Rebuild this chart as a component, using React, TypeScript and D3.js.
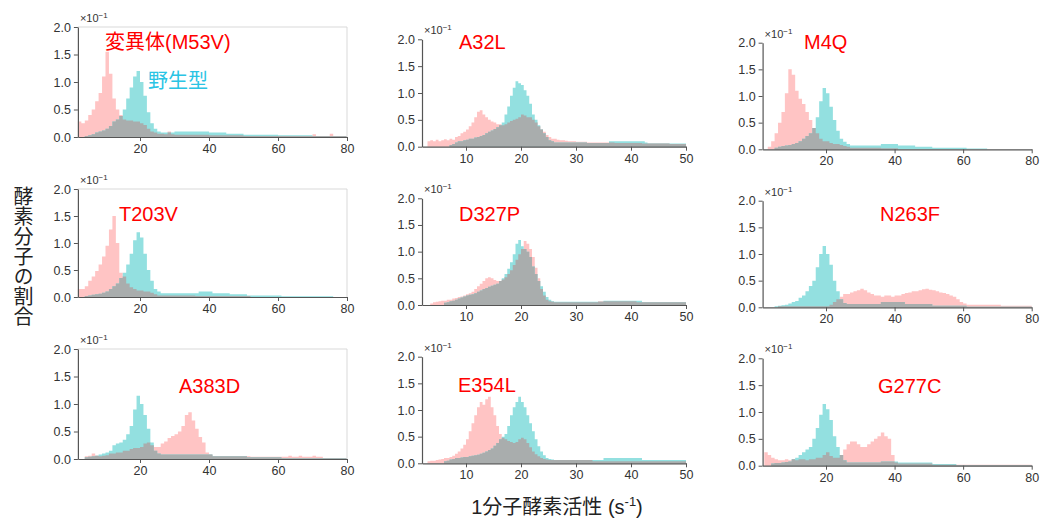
import React, { useEffect, useRef } from 'react';
import * as d3 from 'd3';

// histogram bins start at x = 2; left/right columns use 1-unit bins, middle column 0.5-unit bins
const BIN_START = 2;

const mutantNames = ['変異体(M53V)', 'A32L', 'M4Q', 'T203V', 'D327P', 'N263F', 'A383D', 'E354L', 'G277C'];
const wildName = '野生型';
const yTicks = [0, 0.5, 1, 1.5, 2];
const wideTicks = [20, 40, 60, 80];
const narrowTicks = [10, 20, 30, 40, 50];
const xTitle = '1分子酵素活性 (s';
const yTitle = '酵素分子の割合';

// values in units of 10^-1
const m53vMutant = [
  0.28, 0.25, 0.3, 0.4, 0.5, 0.65, 0.8, 1.1, 1.55, 1.15,
  0.7, 0.5, 0.4, 0.32, 0.3, 0.3, 0.28, 0.28, 0.25, 0.22,
  0.15, 0.1, 0.08, 0.06, 0.06, 0.05, 0.1, 0.05, 0.04, 0.04,
  0.04, 0.04, 0.04, 0.04, 0.04, 0.04, 0.04, 0.04, 0.03, 0.03,
  0.03, 0.03, 0.03, 0.03, 0.03, 0.03, 0.03, 0.03, 0.02, 0.02,
  0.02, 0.02, 0.02, 0.02, 0.02, 0.02, 0.02, 0.02, 0.02, 0.02,
  0.02, 0.02, 0.02, 0.02, 0.02, 0.02, 0.02, 0.02, 0.05, 0.02,
  0.02, 0.02, 0.02, 0.06, 0.02, 0.02, 0.02, 0.02,
];
const m53vWild = [
  0, 0, 0.02, 0.03, 0.05, 0.08, 0.1, 0.12, 0.15, 0.2,
  0.28, 0.32, 0.38, 0.5, 0.7, 0.9, 1.1, 1.2, 1.0, 0.75,
  0.45, 0.25, 0.15, 0.1, 0.08, 0.08, 0.08, 0.08, 0.1, 0.1,
  0.1, 0.1, 0.1, 0.1, 0.1, 0.1, 0.1, 0.1, 0.08, 0.08,
  0.08, 0.08, 0.08, 0.06, 0.06, 0.06, 0.06, 0.06, 0.04, 0.04,
  0.04, 0.04, 0.04, 0.04, 0.04, 0.04, 0.04, 0.04, 0.03, 0.03,
  0.03, 0.03, 0.03, 0.03, 0.03, 0.03, 0.03, 0.03, 0.02, 0.02,
  0.02, 0.02, 0.02, 0.02, 0.02, 0.02, 0.02, 0.02,
];
const a32lMutant = [
  0, 0, 0.1, 0.12, 0.1, 0.13, 0.1, 0.12, 0.14, 0.12,
  0.15, 0.13, 0.18, 0.2, 0.25, 0.28, 0.32, 0.38, 0.45, 0.55,
  0.65, 0.68, 0.6, 0.55, 0.5, 0.47, 0.45, 0.42, 0.42, 0.4,
  0.42, 0.45, 0.48, 0.5, 0.52, 0.55, 0.6, 0.58, 0.55, 0.55,
  0.5, 0.45, 0.38, 0.32, 0.28, 0.22, 0.18, 0.15, 0.15, 0.13,
  0.12, 0.12, 0.11, 0.1, 0.1, 0.1, 0.09, 0.09, 0.09, 0.09,
  0.08, 0.08, 0.08, 0.08, 0.08, 0.08, 0.08, 0.08, 0.08, 0.08,
  0.07, 0.07, 0.07, 0.07, 0.07, 0.07, 0.07, 0.07, 0.07, 0.07,
  0.06, 0.06, 0.06, 0.06, 0.06, 0.06, 0.06, 0.06, 0.06, 0.06,
  0.05, 0.05, 0.05, 0.05, 0.05, 0.05,
];
const a32lWild = [
  0, 0, 0, 0, 0, 0, 0, 0, 0, 0,
  0.03, 0.05, 0.08, 0.1, 0.1, 0.12, 0.13, 0.15, 0.15, 0.17,
  0.18, 0.2, 0.22, 0.25, 0.28, 0.3, 0.33, 0.36, 0.4, 0.45,
  0.6, 0.75, 0.95, 1.1, 1.22, 1.18, 1.15, 1.05, 0.95, 0.8,
  0.6, 0.5, 0.4, 0.32, 0.25, 0.18, 0.12, 0.1, 0.08, 0.08,
  0.08, 0.08, 0.08, 0.08, 0.08, 0.08, 0.08, 0.08, 0.08, 0.08,
  0.07, 0.07, 0.07, 0.07, 0.07, 0.07, 0.07, 0.07, 0.1, 0.1,
  0.1, 0.1, 0.1, 0.1, 0.1, 0.1, 0.1, 0.1, 0.1, 0.1,
  0.1, 0.08, 0.06, 0.06, 0.06, 0.06, 0.06, 0.06, 0.06, 0.06,
  0.06, 0.06, 0.06, 0.06, 0.06, 0.06,
];
const m4qMutant = [
  0, 0.05, 0.15, 0.3, 0.5, 0.7, 1.05, 1.5, 1.4, 1.1,
  0.95, 0.85, 0.7, 0.55, 0.4, 0.3, 0.2, 0.15, 0.15, 0.12,
  0.1, 0.1, 0.08, 0.06, 0.05, 0.03, 0.03, 0.03, 0.03, 0.03,
  0.03, 0.03, 0.03, 0.03, 0.02, 0.02, 0.02, 0.02, 0.02,
];
const m4qWild = [
  0, 0, 0, 0.03, 0.05, 0.06, 0.07, 0.08, 0.1, 0.12,
  0.15, 0.2, 0.25, 0.3, 0.4, 0.6, 0.9, 1.15, 1.05, 0.8,
  0.55, 0.35, 0.2, 0.14, 0.1, 0.07, 0.07, 0.07, 0.07, 0.07,
  0.07, 0.07, 0.07, 0.07, 0.1, 0.1, 0.1, 0.1, 0.1, 0.07,
  0.07, 0.07, 0.07, 0.07, 0.05, 0.05, 0.05, 0.05, 0.05, 0.03,
  0.03, 0.03, 0.03, 0.03, 0.03, 0.03, 0.03, 0.03, 0.03, 0.015,
  0.015, 0.015, 0.015, 0.015, 0.015,
];
const t203vMutant = [
  0.15, 0.15, 0.2, 0.3, 0.38, 0.48, 0.6, 0.75, 0.95, 1.25,
  1.5, 1.0, 0.45, 0.38, 0.25, 0.18, 0.15, 0.12, 0.12, 0.1,
  0.1, 0.08, 0.05, 0.03, 0.03, 0.03, 0.03, 0.03, 0.03, 0.03,
  0.03, 0.03, 0.03, 0.03, 0.02, 0.02, 0.02, 0.02, 0.02, 0.02,
  0.02, 0.02, 0.02, 0.02, 0.02, 0.02, 0.02, 0.02, 0.02, 0.02,
];
const t203vWild = [
  0, 0, 0.02, 0.03, 0.04, 0.05, 0.06, 0.08, 0.1, 0.15,
  0.2, 0.25, 0.35, 0.45, 0.6, 0.8, 1.05, 1.2, 1.1, 0.8,
  0.5, 0.3, 0.15, 0.1, 0.07, 0.07, 0.07, 0.07, 0.07, 0.07,
  0.07, 0.07, 0.07, 0.07, 0.07, 0.1, 0.1, 0.1, 0.1, 0.07,
  0.07, 0.07, 0.07, 0.07, 0.05, 0.05, 0.05, 0.05, 0.05, 0.03,
  0.03, 0.03, 0.03, 0.03, 0.03, 0.03, 0.03, 0.03, 0.03, 0.015,
  0.015, 0.015, 0.015, 0.015, 0.015, 0.015, 0.015, 0.015, 0.015, 0.015,
  0.015, 0.015, 0.015, 0.015,
];
const d327pMutant = [
  0, 0, 0, 0.03, 0.05, 0.06, 0.07, 0.08, 0.08, 0.1,
  0.1, 0.12, 0.13, 0.15, 0.16, 0.18, 0.2, 0.22, 0.25, 0.3,
  0.35, 0.4, 0.45, 0.5, 0.52, 0.5, 0.47, 0.45, 0.45, 0.48,
  0.52, 0.58, 0.65, 0.75, 0.85, 0.95, 1.05, 1.2, 1.15, 1.05,
  0.9, 0.7, 0.5, 0.3, 0.18, 0.1, 0.07, 0.06, 0.05, 0.05,
  0.05, 0.05, 0.05, 0.05, 0.05, 0.05, 0.05, 0.05, 0.05, 0.05,
  0.05, 0.05, 0.05, 0.05, 0.07, 0.07, 0.07, 0.07, 0.07, 0.07,
  0.07, 0.07, 0.07, 0.07, 0.07, 0.07, 0.07, 0.07, 0.05, 0.05,
  0.05, 0.05, 0.05, 0.05, 0.05, 0.05, 0.05, 0.05, 0.05, 0.05,
  0.05, 0.05, 0.05, 0.05, 0.05, 0.05,
];
const d327pWild = [
  0, 0, 0, 0, 0, 0, 0, 0, 0.04, 0.05,
  0.07, 0.08, 0.1, 0.12, 0.14, 0.16, 0.18, 0.19, 0.2, 0.22,
  0.25, 0.27, 0.3, 0.32, 0.34, 0.36, 0.38, 0.4, 0.45, 0.5,
  0.58, 0.68, 0.8, 0.95, 1.15, 1.22, 1.1, 1.05, 1.0, 0.9,
  0.72, 0.58, 0.45, 0.35, 0.25, 0.15, 0.1, 0.07, 0.06, 0.06,
  0.06, 0.06, 0.06, 0.06, 0.06, 0.06, 0.06, 0.06, 0.06, 0.06,
  0.06, 0.06, 0.06, 0.06, 0.06, 0.06, 0.08, 0.08, 0.08, 0.08,
  0.08, 0.08, 0.08, 0.08, 0.08, 0.08, 0.08, 0.08, 0.08, 0.08,
  0.05, 0.05, 0.05, 0.05, 0.05, 0.05, 0.05, 0.05, 0.05, 0.05,
  0.05, 0.05, 0.05, 0.05, 0.05, 0.05,
];
const n263fMutant = [
  0, 0, 0, 0, 0.02, 0.02, 0.02, 0.02, 0.02, 0.02,
  0.02, 0.02, 0.02, 0.02, 0.02, 0.02, 0.02, 0.02, 0.02, 0.05,
  0.1, 0.15, 0.2, 0.25, 0.25, 0.28, 0.3, 0.32, 0.35, 0.32,
  0.28, 0.25, 0.22, 0.22, 0.2, 0.22, 0.22, 0.2, 0.22, 0.22,
  0.25, 0.27, 0.28, 0.3, 0.3, 0.32, 0.34, 0.35, 0.33, 0.32,
  0.3, 0.28, 0.27, 0.25, 0.22, 0.2, 0.15, 0.1, 0.07, 0.05,
  0.05, 0.05, 0.05, 0.05, 0.05, 0.05, 0.05, 0.05, 0.05, 0.03,
  0.03, 0.03, 0.03, 0.03, 0.03, 0.03, 0.03, 0.03,
];
const n263fWild = [
  0, 0, 0, 0.02, 0.03, 0.04, 0.05, 0.07, 0.1, 0.12,
  0.18, 0.22, 0.3, 0.4, 0.5, 0.75, 1.0, 1.15, 1.0, 0.8,
  0.5, 0.3, 0.15, 0.08, 0.06, 0.06, 0.06, 0.06, 0.06, 0.06,
  0.06, 0.06, 0.06, 0.06, 0.1, 0.1, 0.1, 0.1, 0.1, 0.1,
  0.1, 0.06, 0.06, 0.06, 0.06, 0.06, 0.06, 0.06, 0.06, 0.03,
  0.03, 0.03, 0.03, 0.03, 0.03, 0.03, 0.03, 0.03, 0.03, 0.01,
  0.01, 0.01, 0.01, 0.01, 0.01, 0.01, 0.01, 0.01, 0.01, 0.01,
  0.01, 0.01, 0.01, 0.01, 0.01, 0.01, 0.01, 0.01,
];
const a383dMutant = [
  0, 0, 0.05, 0.06, 0.1, 0.06, 0.05, 0.06, 0.07, 0.1,
  0.1, 0.12, 0.12, 0.15, 0.15, 0.18, 0.2, 0.2, 0.22, 0.28,
  0.3, 0.25, 0.22, 0.22, 0.28, 0.32, 0.38, 0.42, 0.45, 0.5,
  0.6, 0.8, 0.85, 0.7, 0.55, 0.4, 0.3, 0.12, 0.08, 0.05,
  0.05, 0.05, 0.05, 0.05, 0.05, 0.05, 0.05, 0.05, 0.05, 0.05,
  0.04, 0.04, 0.04, 0.04, 0.04, 0.04, 0.04, 0.04, 0.04, 0.04,
  0.04, 0.06, 0.04, 0.04, 0.06, 0.04, 0.04, 0.04, 0.06, 0.04,
  0.04, 0.02, 0.02, 0.02, 0.02, 0.02, 0.02, 0.02,
];
const a383dWild = [
  0, 0, 0.03, 0.04, 0.05, 0.06, 0.08, 0.1, 0.12, 0.15,
  0.25, 0.28, 0.3, 0.35, 0.45, 0.6, 0.9, 1.15, 1.0, 0.8,
  0.55, 0.3, 0.15, 0.1, 0.08, 0.08, 0.08, 0.08, 0.08, 0.08,
  0.08, 0.08, 0.08, 0.08, 0.08, 0.08, 0.08, 0.08, 0.08, 0.05,
  0.05, 0.05, 0.05, 0.05, 0.05, 0.05, 0.05, 0.05, 0.05, 0.03,
  0.03, 0.03, 0.03, 0.03, 0.03, 0.03, 0.03, 0.03, 0.03, 0.015,
  0.015, 0.015, 0.015, 0.015, 0.015, 0.015, 0.015, 0.015, 0.015, 0.015,
  0.015, 0.015, 0.015, 0.015, 0.015, 0.015, 0.015, 0.015,
];
const e354lMutant = [
  0, 0, 0.04, 0.05, 0.05, 0.06, 0.07, 0.08, 0.1, 0.1,
  0.12, 0.14, 0.18, 0.22, 0.28, 0.35, 0.45, 0.6, 0.75, 0.9,
  1.05, 1.15, 1.1, 1.2, 1.25, 1.05, 0.9, 0.7, 0.55, 0.48,
  0.45, 0.42, 0.4, 0.38, 0.4, 0.45, 0.48, 0.45, 0.38, 0.3,
  0.22, 0.17, 0.13, 0.1, 0.08, 0.07, 0.06, 0.06, 0.06, 0.06,
  0.06, 0.06, 0.06, 0.06, 0.06, 0.06, 0.06, 0.06, 0.06, 0.06,
  0.06, 0.06, 0.04, 0.04, 0.04, 0.04, 0.04, 0.04, 0.04, 0.04,
  0.04, 0.04, 0.04, 0.04, 0.04, 0.04, 0.04, 0.04, 0.04, 0.04,
  0.04, 0.04, 0.04, 0.04, 0.04, 0.04, 0.04, 0.04, 0.04, 0.04,
  0.04, 0.04, 0.04, 0.04, 0.04, 0.04,
];
const e354lWild = [
  0, 0, 0, 0, 0, 0, 0, 0, 0.04, 0.05,
  0.07, 0.08, 0.1, 0.1, 0.11, 0.12, 0.12, 0.13, 0.14, 0.15,
  0.16, 0.18, 0.2, 0.22, 0.25, 0.28, 0.33, 0.38, 0.45, 0.5,
  0.55, 0.7, 0.9, 1.05, 1.15, 1.25, 1.15, 1.05, 0.9, 0.75,
  0.6, 0.45, 0.32, 0.22, 0.15, 0.1, 0.08, 0.07, 0.06, 0.06,
  0.06, 0.06, 0.06, 0.06, 0.06, 0.06, 0.06, 0.06, 0.06, 0.06,
  0.06, 0.06, 0.06, 0.06, 0.06, 0.06, 0.1, 0.1, 0.1, 0.1,
  0.1, 0.1, 0.1, 0.1, 0.1, 0.1, 0.1, 0.1, 0.1, 0.1,
  0.06, 0.06, 0.06, 0.06, 0.06, 0.06, 0.06, 0.06, 0.06, 0.06,
  0.06, 0.06, 0.06, 0.06, 0.06, 0.06,
];
const g277cMutant = [
  0.25, 0.2, 0.15, 0.12, 0.1, 0.1, 0.12, 0.1, 0.12, 0.1,
  0.12, 0.12, 0.1, 0.12, 0.12, 0.15, 0.15, 0.2, 0.25, 0.18,
  0.15, 0.15, 0.2, 0.3, 0.4, 0.45, 0.45, 0.4, 0.35, 0.35,
  0.4, 0.45, 0.5, 0.55, 0.62, 0.55, 0.5, 0.2, 0.06, 0.04,
  0.04, 0.04, 0.04, 0.04, 0.04, 0.04, 0.04, 0.04, 0.04, 0.02,
  0.02, 0.02, 0.02, 0.02, 0.02, 0.02, 0.02, 0.02, 0.02, 0.02,
  0.02, 0.02, 0.02, 0.02, 0.02, 0.02, 0.02, 0.02, 0.02, 0.02,
  0.02, 0.02, 0.02, 0.02, 0.02, 0.02, 0.02, 0.02,
];
const g277cWild = [
  0, 0, 0.04, 0.05, 0.05, 0.06, 0.07, 0.08, 0.12, 0.15,
  0.2, 0.25, 0.3, 0.35, 0.5, 0.7, 0.95, 1.15, 1.05, 0.85,
  0.55, 0.35, 0.2, 0.1, 0.06, 0.06, 0.06, 0.06, 0.06, 0.06,
  0.06, 0.06, 0.06, 0.06, 0.08, 0.08, 0.08, 0.08, 0.08, 0.06,
  0.06, 0.06, 0.06, 0.06, 0.06, 0.06, 0.06, 0.06, 0.06, 0.03,
  0.03, 0.03, 0.03, 0.03, 0.03, 0.03, 0.01, 0.01, 0.01, 0.01,
  0.01, 0.01, 0.01, 0.01, 0.01, 0.01, 0.01, 0.01, 0.01, 0.01,
  0.01, 0.01, 0.01, 0.01, 0.01, 0.01, 0.01, 0.01,
];

const mutantSeries = [m53vMutant, a32lMutant, m4qMutant, t203vMutant, d327pMutant, n263fMutant, a383dMutant, e354lMutant, g277cMutant];
const wildSeries = [m53vWild, a32lWild, m4qWild, t203vWild, d327pWild, n263fWild, a383dWild, e354lWild, g277cWild];

const FONT = "Arial, 'Liberation Sans', 'Noto Sans CJK JP', sans-serif";
const PINK = '#ffc4c4';
const CYAN = '#93e0e0';
const GRAY = '#a9adad';
const AXIS = '#555';

// layout of the three columns
const columns = [
  { x0: 77.9, x1: 347, domain: [2, 80], ticks: wideTicks, bin: 1, box: true, rows: [[27, 137], [189, 297], [349, 459]] },
  { x0: 422, x1: 686, domain: [2, 50], ticks: narrowTicks, bin: 0.5, box: false, rows: [[39.3, 146.7], [198.3, 305], [356.7, 463.3]] },
  { x0: 762.6, x1: 1031.7, domain: [1.5, 80], ticks: wideTicks, bin: 1, box: false, rows: [[42.7, 149.3], [200.7, 307.3], [358.3, 465.7]] },
];
const labelPos = [[105, 49], [459, 49], [804, 49], [119, 221], [459, 221], [880, 221], [179, 393], [458, 392], [878, 393]];

const App = () => {
  const ref = useRef<SVGSVGElement>(null);

  useEffect(() => {
    const svg = d3.select(ref.current);
    svg.selectAll('*').remove();

    mutantNames.forEach((name, k) => {
      const col = columns[k % 3];
      const [top, bottom] = col.rows[Math.floor(k / 3)];
      const x = d3.scaleLinear().domain(col.domain).range([col.x0, col.x1]);
      const y = d3.scaleLinear().domain([0, 2]).range([bottom, top]);
      const g = svg.append('g');

      const mut = mutantSeries[k];
      const wt = wildSeries[k];
      const n = Math.max(mut.length, wt.length);
      const overlap = d3.range(n).map(i => Math.min(mut[i] ?? 0, wt[i] ?? 0));

      const area = d3.area<number>()
        .x((_, i) => x(BIN_START + i * col.bin))
        .y0(y(0))
        .y1(d => y(d))
        .curve(d3.curveStepAfter);
      const closed = (arr: number[]) => [...arr, arr[arr.length - 1]];

      g.append('path').attr('d', area(closed(mut))).attr('fill', PINK);
      g.append('path').attr('d', area(closed(wt))).attr('fill', CYAN);
      g.append('path').attr('d', area(closed(overlap))).attr('fill', GRAY);

      if (col.box) {
        g.append('path')
          .attr('d', `M${col.x0},${top}H${col.x1}V${bottom}`)
          .attr('fill', 'none')
          .attr('stroke', '#d9d9d9');
      }

      const xa = g.append('g')
        .attr('transform', `translate(0,${bottom})`)
        .call(d3.axisBottom(x).tickValues(col.ticks).tickSize(4).tickSizeOuter(0).tickPadding(3));
      const ya = g.append('g')
        .attr('transform', `translate(${col.x0},0)`)
        .call(d3.axisLeft(y).tickValues(yTicks).tickFormat(d3.format('.1f')).tickSize(4).tickSizeOuter(0).tickPadding(3));
      for (const a of [xa, ya]) {
        a.attr('font-family', FONT).attr('font-size', 12.5);
        a.select('.domain').attr('stroke', AXIS).attr('stroke-width', 1.2);
        a.selectAll('.tick line').attr('stroke', AXIS);
        a.selectAll('.tick text').attr('fill', '#333');
      }

      // ×10^-1 multiplier
      const mult = g.append('text')
        .attr('x', col.x0 + 2)
        .attr('y', top - 5)
        .attr('font-family', FONT)
        .attr('font-size', 11)
        .attr('fill', '#333')
        .text('×10');
      mult.append('tspan').attr('dy', -4).attr('font-size', 8).text('−1');

      g.append('text')
        .attr('x', labelPos[k][0])
        .attr('y', labelPos[k][1])
        .attr('font-family', FONT)
        .attr('font-size', 20)
        .attr('fill', '#ff0000')
        .text(name);

      if (k === 0) {
        g.append('text')
          .attr('x', 148)
          .attr('y', 88)
          .attr('font-family', FONT)
          .attr('font-size', 20)
          .attr('fill', '#2ac4e4')
          .text(wildName);
      }
    });

    svg.append('text')
      .attr('x', 22)
      .attr('y', 256)
      .attr('text-anchor', 'middle')
      .attr('font-family', FONT)
      .attr('font-size', 20)
      .attr('fill', '#222')
      .style('writing-mode', 'vertical-rl')
      .text(yTitle);

    const xt = svg.append('text')
      .attr('x', 557)
      .attr('y', 514)
      .attr('text-anchor', 'middle')
      .attr('font-family', FONT)
      .attr('font-size', 20)
      .attr('fill', '#222');
    xt.append('tspan').text(xTitle);
    xt.append('tspan').attr('dy', -8).attr('font-size', 13).text('-1');
    xt.append('tspan').attr('dy', 8).text(')');
  }, []);

  return (
    <svg ref={ref} width={1042} height={525} style={{ position: 'absolute', left: 0, top: 0, background: '#fff' }} />
  );
};

export default App;
